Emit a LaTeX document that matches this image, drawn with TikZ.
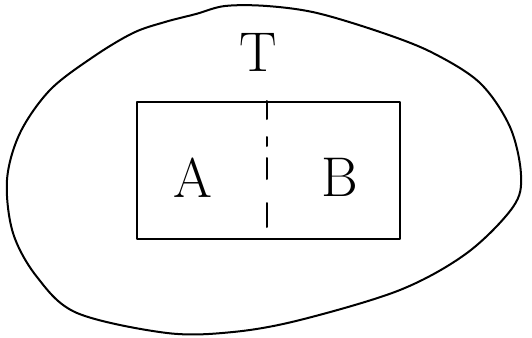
\documentclass[tikz,border=0pt]{standalone}
\begin{document}
\begin{tikzpicture}[line join=round, line cap=round, x=1pt, y=-1pt, line width=2pt]
\tikzset{letter style/.style={font=\fontsize{56}{60}\selectfont, inner sep=0pt}}
\tikzset{box style/.style={draw, minimum width=263pt, minimum height=137pt, inner sep=0pt, anchor=north west}}
\useasboundingbox (0,0) rectangle (532,337);
\draw[smooth cycle, tension=0.55] plot coordinates {(225,6) (267,6) (317,13) (383,33) (433,53) (480,83) (510,127) (521,175) (513,207) (467,253) (400,290) (300,320) (233,332) (167,333) (77,313) (37,277) (13,233) (7,180) (20,133) (50,90) (93,57) (133,33) (165,22) (196,14)};
\node[box style] (box) at (136,101) {};
\coordinate (cut) at (267,227);
\draw[dash pattern=on 18pt off 18pt on 9pt off 12pt on 21pt off 24pt on 24pt off 10pt] (box.north -| cut) -- (cut);
\node[letter style] (T) at (258,52) {T};
\node[letter style] (A) at (193,178) {A};
\node[letter style] (B) at (340,177) {B};
\end{tikzpicture}
\end{document}
